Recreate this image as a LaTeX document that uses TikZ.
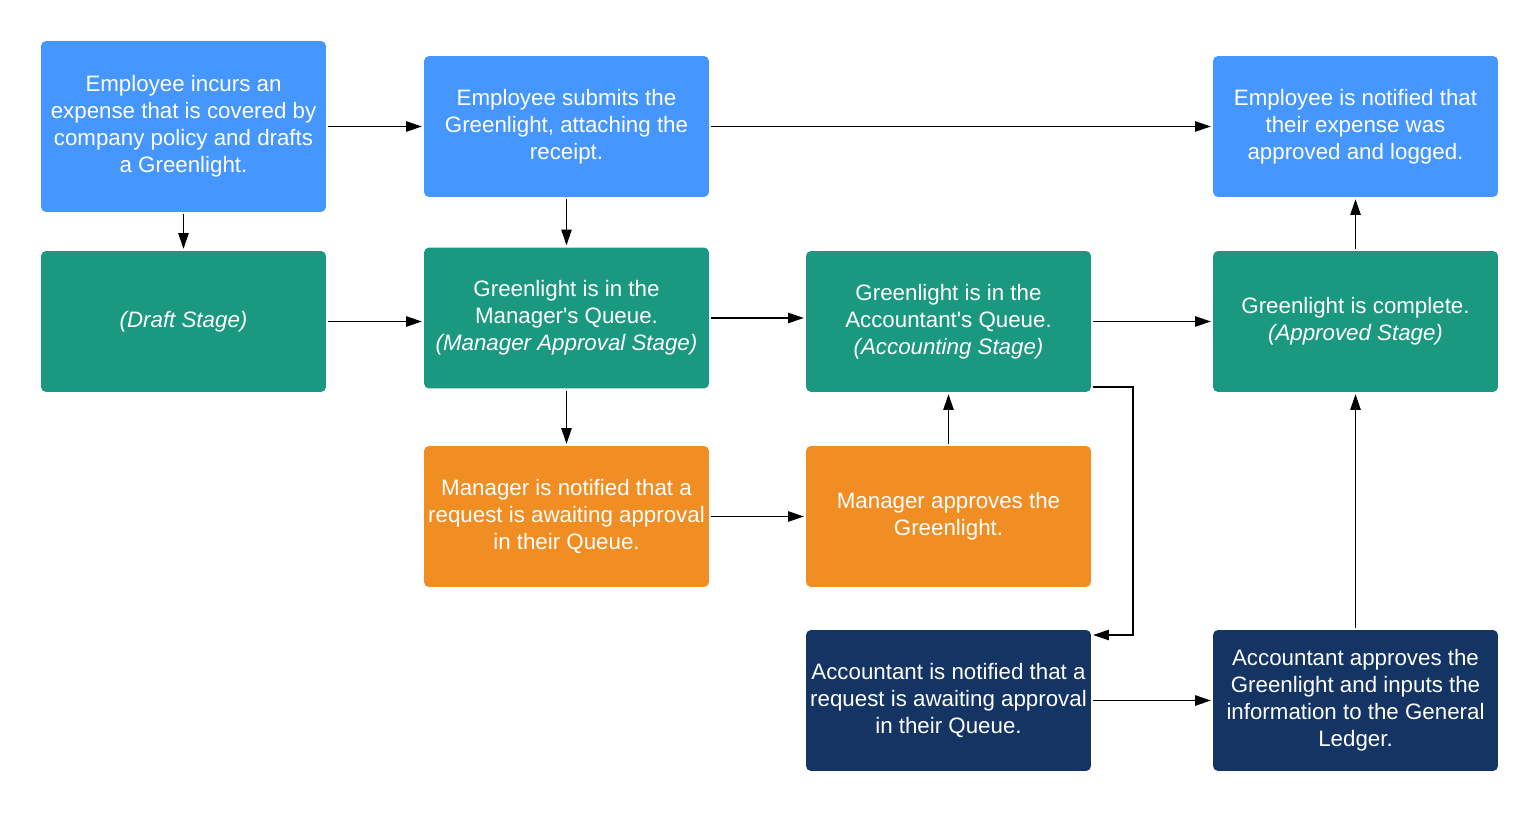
\documentclass[tikz,border=0pt]{standalone}
\usepackage{fontspec}
\setmainfont{Liberation Sans}
\usepackage{tikz}
\usetikzlibrary{arrows.meta, calc}

\definecolor{stepblue}{HTML}{4596FE}
\definecolor{stepteal}{HTML}{1B9980}
\definecolor{steporange}{HTML}{F08D23}
\definecolor{stepnavy}{HTML}{143463}

\begin{document}
\begin{tikzpicture}[x=0.02cm, y=-0.02cm,
    box/.style={rounded corners=0.1cm, text=white, align=center, inner sep=0pt,
      minimum width=5.7cm, minimum height=2.82cm, outer sep=1.2pt,
      font=\fontsize{12.7}{15.4}\selectfont},
    flow/.style={-{Triangle[length=9pt, width=5.8pt]}, line width=1.1pt}]
    % Page frame (1540 x 813 px)
    \useasboundingbox (0,0) rectangle (1540,813);

    % Employee steps (blue)
    \node[box, fill=stepblue, minimum height=3.42cm] (incur) at (183.5,126.5)
      {Employee incurs an\\expense that is covered by\\company policy and drafts\\a Greenlight.};
    \node[box, fill=stepblue] (submit) at (566.5,126.5)
      {Employee submits the\\Greenlight, attaching the\\receipt.};
    \node[box, fill=stepblue] (notified) at (1355.5,126.5)
      {Employee is notified that\\their expense was\\approved and logged.};

    % Stages (teal)
    \node[box, fill=stepteal] (draft) at (183.5,321.5) {\textit{(Draft Stage)}};
    \node[box, fill=stepteal] (mgrqueue) at (566.5,318)
      {Greenlight is in the\\Manager\textquotesingle s Queue.\\\textit{(Manager Approval Stage)}};
    \node[box, fill=stepteal] (acctqueue) at (948.5,321.5)
      {Greenlight is in the\\Accountant\textquotesingle s Queue.\\\textit{(Accounting Stage)}};
    \node[box, fill=stepteal] (complete) at (1355.5,321.5)
      {Greenlight is complete.\\\textit{(Approved Stage)}};

    % Manager steps (orange)
    \node[box, fill=steporange] (mgrnote) at (566.5,516.5)
      {Manager is notified that a\\request is awaiting approval\\in their Queue.};
    \node[box, fill=steporange] (mgrok) at (948.5,516.5)
      {Manager approves the\\Greenlight.};

    % Accountant steps (navy)
    \node[box, fill=stepnavy] (acctnote) at (948.5,700.5)
      {Accountant is notified that a\\request is awaiting approval\\in their Queue.};
    \node[box, fill=stepnavy] (acctok) at (1355.5,700.5)
      {Accountant approves the\\Greenlight and inputs the\\information to the General\\Ledger.};

    % Bend points of the side route
    \coordinate (bendtop) at (1133,387);
    \coordinate (bendlow) at (1133,635);

    % Connectors
    \draw[flow] (incur) -- (submit);
    \draw[flow] (incur) -- (draft);
    \draw[flow] (submit) -- (mgrqueue);
    \draw[flow] (submit) -- (notified);
    \draw[flow] (draft) -- (draft -| mgrqueue.west);
    \draw[flow] (mgrqueue) -- (mgrqueue -| acctqueue.west);
    \draw[flow] (acctqueue) -- (complete);
    \draw[flow] (mgrqueue) -- (mgrnote);
    \draw[flow] (mgrnote) -- (mgrok);
    \draw[flow] (mgrok) -- (acctqueue);
    \draw[flow] (acctqueue.east |- bendtop) -- (bendtop) -- (bendlow) -- (acctnote.east |- bendlow);
    \draw[flow] (acctnote) -- (acctok);
    \draw[flow] (acctok) -- (complete);
    \draw[flow] (complete) -- (notified);
  \end{tikzpicture}
\end{document}
